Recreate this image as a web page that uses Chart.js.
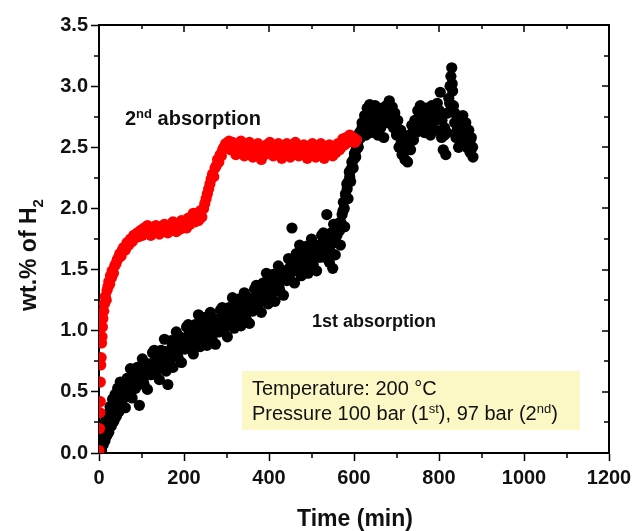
<!DOCTYPE html>
<html>
<head>
<meta charset="utf-8">
<script src="https://cdn.jsdelivr.net/npm/chart.js@4.4.0/dist/chart.umd.min.js"></script>
<style>
  html, body { margin: 0; padding: 0; background: #fff; }
</style>
</head>
<body>
<canvas id="chart" width="636" height="531"></canvas>
<script>
// tick values
const xTicks = [0, 200, 400, 600, 800, 1000, 1200];
const yTicks = [0, 0.5, 1.0, 1.5, 2.0, 2.5, 3.0, 3.5];

// 1st absorption (black), outer scatter of the band
const time1 = [
  0, 2, 4, 6, 8, 10, 12, 14, 16, 18,
  20, 23, 26, 29, 32, 35, 38, 41, 44, 47,
  50, 54, 58, 62, 66, 70, 74, 78, 82, 86,
  90, 95, 98, 102, 106, 110, 114, 118, 122, 126,
  130, 134, 138, 142, 146, 150, 154, 158, 162, 166,
  170, 174, 178, 182, 186, 190, 194, 198, 202, 206,
  210, 214, 218, 222, 226, 230, 234, 238, 242, 246,
  250, 254, 258, 262, 266, 270, 274, 278, 282, 286,
  290, 294, 298, 302, 306, 310, 314, 318, 322, 326,
  330, 334, 338, 342, 346, 350, 354, 358, 362, 366,
  370, 374, 378, 382, 386, 390, 394, 398, 402, 406,
  410, 414, 418, 422, 426, 430, 434, 438, 442, 446,
  450, 454, 456, 460, 464, 468, 472, 476, 480, 484,
  488, 492, 496, 500, 504, 508, 512, 516, 520, 524,
  528, 532, 536, 538, 542, 546, 550, 552, 556, 560,
  564, 568, 572, 575, 578, 580, 583, 586, 589, 592,
  595, 598, 601, 604, 607, 610, 613, 616, 619, 622,
  625, 628, 631, 634, 637, 640, 643, 646, 650, 653,
  656, 660, 663, 666, 670, 673, 676, 680, 683, 686,
  690, 693, 696, 700, 703, 706, 710, 713, 716, 720,
  723, 726, 730, 733, 736, 740, 743, 746, 750, 753,
  756, 760, 763, 766, 770, 773, 776, 780, 783, 786,
  790, 793, 796, 800, 803, 806, 810, 813, 816, 820,
  823, 826, 828, 830, 832, 834, 837, 840, 843, 846,
  850, 853, 856, 860, 863, 866, 870, 873, 876, 880
];
const wt1 = [
  0.00, 0.06, 0.12, 0.02, 0.18, 0.07, 0.24, 0.10, 0.28, 0.14,
  0.32, 0.17, 0.38, 0.22, 0.44, 0.26, 0.48, 0.30, 0.53, 0.34,
  0.58, 0.40, 0.53, 0.37, 0.61, 0.51, 0.69, 0.45, 0.63, 0.53,
  0.70, 0.39, 0.64, 0.77, 0.56, 0.73, 0.52, 0.71, 0.64, 0.82,
  0.84, 0.65, 0.77, 0.60, 0.84, 0.75, 0.93, 0.67, 0.56, 0.75,
  0.92, 0.70, 0.86, 0.99, 0.78, 0.95, 0.74, 0.93, 0.85, 1.03,
  1.05, 0.86, 0.99, 0.81, 1.05, 0.95, 1.13, 0.87, 1.05, 0.95,
  1.11, 0.88, 1.04, 1.15, 0.94, 1.10, 0.89, 1.08, 0.99, 1.17,
  1.19, 1.00, 1.13, 0.95, 1.19, 1.09, 1.27, 1.02, 1.20, 1.10,
  1.26, 1.04, 1.20, 1.31, 1.10, 1.27, 1.06, 1.25, 1.16, 1.34,
  1.37, 1.18, 1.31, 1.15, 1.39, 1.29, 1.47, 1.22, 1.40, 1.30,
  1.46, 1.24, 1.40, 1.53, 1.32, 1.49, 1.29, 1.48, 1.41, 1.59,
  1.42, 1.84, 1.56, 1.39, 1.63, 1.52, 1.70, 1.45, 1.64, 1.53,
  1.69, 1.47, 1.63, 1.75, 1.54, 1.70, 1.49, 1.68, 1.60, 1.78,
  1.80, 1.60, 1.95, 1.74, 1.56, 1.80, 1.51, 1.87, 1.62, 1.78,
  1.88, 1.70, 1.95, 2.05, 1.85, 2.12, 2.20, 2.08, 2.30, 2.22,
  2.38, 2.33, 2.45, 2.42, 2.55, 2.50, 2.62, 2.58, 2.70, 2.64,
  2.76, 2.60, 2.82, 2.70, 2.85, 2.62, 2.78, 2.68, 2.84, 2.72,
  2.60, 2.78, 2.66, 2.82, 2.58, 2.74, 2.84, 2.70, 2.88, 2.76,
  2.83, 2.66, 2.78, 2.60, 2.72, 2.50, 2.64, 2.44, 2.56, 2.40,
  2.52, 2.38, 2.60, 2.48, 2.68, 2.56, 2.72, 2.62, 2.80, 2.66,
  2.84, 2.70, 2.78, 2.62, 2.82, 2.68, 2.76, 2.60, 2.84, 2.70,
  2.80, 2.64, 2.86, 2.74, 2.95, 2.58, 2.48, 2.66, 2.44, 2.78,
  2.90, 3.00, 3.08, 3.15, 2.96, 2.84, 2.70, 2.58, 2.74, 2.50,
  2.68, 2.56, 2.76, 2.62, 2.70, 2.50, 2.64, 2.46, 2.58, 2.42
];

// 1st absorption (black), denser readings in the middle of the band
const time1Core = [
  3, 7, 11, 15, 19, 22, 25, 28, 31, 34,
  37, 40, 43, 46, 49,
  52, 56, 60, 64, 68, 72, 76, 80, 84, 88,
  92, 96, 100, 104, 108, 112, 116, 120, 124, 128,
  132, 136, 140, 144, 148, 152, 156, 160, 164, 168,
  172, 176, 180, 184, 188, 192, 196, 200, 204, 208,
  212, 216, 220, 224, 228, 232, 236, 240, 244, 248,
  252, 256, 260, 264, 268, 272, 276, 280, 284, 288,
  292, 296, 300, 304, 308, 312, 316, 320, 324, 328,
  332, 336, 340, 344, 348, 352, 356, 360, 364, 368,
  372, 376, 380, 384, 388, 392, 396, 400, 404, 408,
  412, 416, 420, 424, 428, 432, 436, 440, 444, 448,
  452, 456, 460, 464, 468, 472, 476, 480, 484, 488,
  492, 496, 500, 504, 508, 512, 516, 520, 524, 528,
  532, 536, 540, 544, 548, 552, 556,
  566, 570, 574, 577, 581, 584, 587, 590, 593, 596,
  599, 602, 605, 608, 611, 614, 617, 620,
  627, 633, 639, 645, 651, 657, 663, 669, 675, 681,
  687, 693, 699, 705, 711, 717, 723, 729, 735, 741,
  747, 753, 759, 765, 771, 777, 783, 789, 795, 801,
  807, 813, 819, 825, 831, 837, 843, 849, 855, 861,
  867, 873, 879
];
const wt1Core = [
  0.05, 0.09, 0.14, 0.18, 0.21, 0.24, 0.27, 0.30, 0.33, 0.35,
  0.38, 0.40, 0.42, 0.44, 0.46,
  0.51, 0.45, 0.51, 0.46, 0.55, 0.54, 0.60, 0.54, 0.53, 0.61,
  0.64, 0.58, 0.64, 0.59, 0.68, 0.66, 0.73, 0.67, 0.66, 0.73,
  0.76, 0.70, 0.75, 0.70, 0.79, 0.77, 0.83, 0.77, 0.76, 0.83,
  0.87, 0.81, 0.86, 0.81, 0.90, 0.88, 0.94, 0.88, 0.87, 0.94,
  0.97, 0.91, 0.96, 0.91, 1.00, 0.97, 1.03, 0.97, 0.96, 1.02,
  1.05, 0.99, 1.03, 0.98, 1.06, 1.04, 1.09, 1.03, 1.02, 1.08,
  1.11, 1.05, 1.10, 1.05, 1.13, 1.11, 1.17, 1.11, 1.10, 1.17,
  1.20, 1.14, 1.19, 1.13, 1.22, 1.20, 1.26, 1.20, 1.19, 1.26,
  1.29, 1.24, 1.29, 1.24, 1.33, 1.31, 1.37, 1.31, 1.30, 1.37,
  1.41, 1.35, 1.40, 1.35, 1.44, 1.43, 1.49, 1.44, 1.43, 1.51,
  1.54, 1.49, 1.54, 1.49, 1.57, 1.55, 1.61, 1.56, 1.54, 1.61,
  1.64, 1.58, 1.63, 1.58, 1.66, 1.64, 1.70, 1.64, 1.63, 1.70,
  1.72, 1.66, 1.71, 1.65, 1.74, 1.72, 1.78,
  1.82, 1.88, 1.98, 2.00, 2.10, 2.16, 2.22, 2.26, 2.32, 2.34,
  2.40, 2.44, 2.48, 2.52, 2.56, 2.60, 2.64, 2.68,
  2.70, 2.72, 2.74, 2.72, 2.76, 2.70, 2.72, 2.70, 2.76, 2.78,
  2.80, 2.74, 2.68, 2.60, 2.54, 2.50, 2.48, 2.52, 2.60, 2.65,
  2.70, 2.74, 2.76, 2.72, 2.74, 2.70, 2.72, 2.74, 2.76, 2.80,
  2.72, 2.60, 2.62, 2.86, 3.02, 2.78, 2.64, 2.60, 2.64, 2.68,
  2.60, 2.55, 2.50
];

// 2nd absorption (red)
const time2 = [
  0, 1, 2, 3, 3, 4, 5, 6, 7, 8,
  9, 11, 13, 15, 17, 19, 21, 23, 25, 27,
  29, 31, 34, 37, 40, 43, 46, 49, 52, 55,
  58, 62, 66, 70, 74, 78, 82, 86, 90, 94,
  98, 102, 106, 110, 114, 118, 122, 126, 130, 134,
  138, 142, 146, 150, 154, 158, 162, 166, 170, 174,
  178, 182, 186, 190, 194, 198, 202, 206, 210, 214,
  218, 222, 226, 230, 234, 238, 242, 246, 249, 252,
  255, 258, 261, 264, 267, 270, 273, 276, 279, 282,
  285, 288, 291, 294, 298, 302, 306, 310, 314, 318,
  322, 326, 330, 334, 338, 342, 346, 350, 354, 358,
  362, 366, 370, 374, 378, 382, 386, 390, 394, 398,
  402, 406, 410, 414, 418, 422, 426, 430, 434, 438,
  442, 446, 450, 454, 458, 462, 466, 470, 474, 478,
  482, 486, 490, 494, 498, 502, 506, 510, 514, 518,
  522, 526, 530, 534, 538, 542, 546, 550, 554, 558,
  562, 566, 570, 574, 578, 582, 586, 590, 594, 598,
  602, 606
];
const wt2 = [
  0.02, 0.20, 0.33, 0.42, 0.58, 0.72, 0.78, 0.90, 0.95, 1.03,
  1.10, 1.16, 1.22, 1.28, 1.25, 1.33, 1.36, 1.40, 1.38, 1.45,
  1.43, 1.49, 1.47, 1.53, 1.55, 1.58, 1.60, 1.63, 1.61, 1.66,
  1.68, 1.66, 1.72, 1.70, 1.75, 1.73, 1.78, 1.76, 1.80, 1.77,
  1.82, 1.78, 1.84, 1.80, 1.86, 1.81, 1.78, 1.84, 1.80, 1.86,
  1.82, 1.79, 1.85, 1.81, 1.87, 1.83, 1.80, 1.86, 1.82, 1.89,
  1.84, 1.81, 1.87, 1.83, 1.90, 1.85, 1.88, 1.84, 1.92, 1.87,
  1.90, 1.96, 1.89, 1.94, 1.90, 1.98, 1.93, 2.00, 2.04, 2.08,
  2.12, 2.16, 2.20, 2.24, 2.28, 2.26, 2.33, 2.35, 2.40, 2.38,
  2.44, 2.43, 2.48, 2.50, 2.53, 2.50, 2.55, 2.48, 2.54, 2.50,
  2.44, 2.52, 2.47, 2.55, 2.49, 2.43, 2.51, 2.46, 2.54, 2.48,
  2.42, 2.50, 2.45, 2.53, 2.47, 2.40, 2.49, 2.44, 2.52, 2.46,
  2.54, 2.49, 2.43, 2.51, 2.46, 2.53, 2.47, 2.41, 2.50, 2.45,
  2.53, 2.48, 2.42, 2.51, 2.46, 2.54, 2.48, 2.43, 2.51, 2.46,
  2.52, 2.47, 2.41, 2.50, 2.45, 2.53, 2.48, 2.42, 2.50, 2.46,
  2.53, 2.47, 2.41, 2.49, 2.45, 2.52, 2.47, 2.43, 2.51, 2.46,
  2.53, 2.48, 2.50, 2.57, 2.52, 2.58, 2.54, 2.60, 2.55, 2.58,
  2.54, 2.56
];

const FONT = '"Liberation Sans", Arial, Helvetica, sans-serif';

// draw a run of text pieces, each piece [text, size, weight, raise]
function drawRich(ctx, parts, x, y) {
  let cx = x;
  parts.forEach(([txt, size, weight, raise]) => {
    ctx.font = `${weight} ${size}px ${FONT}`;
    ctx.fillText(txt, cx, y - raise);
    cx += ctx.measureText(txt).width;
  });
  return cx - x;
}
function richWidth(ctx, parts) {
  let w = 0;
  parts.forEach(([txt, size, weight]) => {
    ctx.font = `${weight} ${size}px ${FONT}`;
    w += ctx.measureText(txt).width;
  });
  return w;
}

const decorations = {
  id: 'decorations',
  beforeDatasetsDraw(chart) {
    const ctx = chart.ctx;
    // info box
    ctx.save();
    ctx.fillStyle = '#fbf8c6';
    ctx.fillRect(242, 371, 338, 59);
    ctx.fillStyle = '#111';
    ctx.textBaseline = 'alphabetic';
    drawRich(ctx, [['Temperature: 200 \u00b0C', 20, 'normal', 0]], 252, 395);
    drawRich(ctx, [
      ['Pressure 100 bar (1', 20, 'normal', 0],
      ['st', 13, 'normal', 7],
      ['), 97 bar (2', 20, 'normal', 0],
      ['nd', 13, 'normal', 7],
      [')', 20, 'normal', 0]
    ], 252, 420);
    ctx.restore();
  },
  afterDraw(chart) {
    const ctx = chart.ctx;
    const xs = chart.scales.x, ys = chart.scales.y;
    const a = chart.chartArea;
    ctx.save();
    ctx.strokeStyle = '#000';
    ctx.lineWidth = 2;
    // top and right frame
    ctx.beginPath();
    ctx.moveTo(a.left - 1, a.top);
    ctx.lineTo(a.right, a.top);
    ctx.lineTo(a.right, a.bottom + 1);
    ctx.stroke();

    ctx.lineWidth = 1.5;
    ctx.beginPath();
    for (let v = 0; v <= 1200; v += 100) {
      const px = Math.round(xs.getPixelForValue(v));
      const major = v % 200 === 0;
      // top, pointing in
      ctx.moveTo(px, a.top);
      ctx.lineTo(px, a.top + (major ? 7 : 4));
      if (!major) {
        ctx.moveTo(px, a.bottom);
        ctx.lineTo(px, a.bottom + 5);
      }
    }
    for (let v = 0; v <= 3.5001; v += 0.25) {
      const py = Math.round(ys.getPixelForValue(v));
      const major = Math.abs(v * 2 - Math.round(v * 2)) < 1e-6;
      ctx.moveTo(a.right, py);
      ctx.lineTo(a.right - (major ? 7 : 5), py);
      if (!major) {
        ctx.moveTo(a.left, py);
        ctx.lineTo(a.left - 5, py);
      }
    }
    ctx.stroke();

    ctx.fillStyle = '#111';
    ctx.textBaseline = 'alphabetic';
    // annotations
    drawRich(ctx, [
      ['2', 20, 'bold', 0],
      ['nd', 13, 'bold', 7],
      [' absorption', 20, 'bold', 0]
    ], 125, 125);
    drawRich(ctx, [['1st absorption', 18, 'bold', 0]], 312, 327);

    // x title
    ctx.font = `bold 23px ${FONT}`;
    ctx.textAlign = 'center';
    ctx.fillText('Time (min)', 355, 526);
    ctx.textAlign = 'left';

    // y title, rotated
    const yParts = [['wt.% of H', 23, 'bold', 0], ['2', 15, 'bold', -7]];
    const w = richWidth(ctx, yParts);
    ctx.translate(36, 255);
    ctx.rotate(-Math.PI / 2);
    drawRich(ctx, yParts, -w / 2, 0);
    ctx.restore();
  }
};

const tickFont = { family: FONT, size: 20, weight: 'bold' };
const axisGrid = {
  display: true,
  drawOnChartArea: false,
  drawTicks: true,
  tickLength: 8,
  tickWidth: 1.5,
  tickColor: '#000',
  color: '#000'
};

const dotRadius = 5.6;
const toPoints = (ts, vs) => ts.map((t, i) => ({ x: t, y: vs[i] }));

new Chart(document.getElementById('chart'), {
  type: 'scatter',
  data: {
    datasets: [
      {
        label: '2nd absorption',
        data: toPoints(time2, wt2),
        pointRadius: dotRadius,
        pointHoverRadius: dotRadius,
        pointBorderWidth: 0,
        pointBackgroundColor: '#ff0000'
      },
      {
        label: '1st absorption',
        data: toPoints(time1, wt1).concat(toPoints(time1Core, wt1Core)),
        pointRadius: dotRadius,
        pointHoverRadius: dotRadius,
        pointBorderWidth: 0,
        pointBackgroundColor: '#000000'
      }
    ]
  },
  options: {
    responsive: false,
    animation: false,
    devicePixelRatio: 1,
    layout: { padding: { left: 0, top: 25, right: 27, bottom: 0 } },
    plugins: { legend: { display: false }, tooltip: { enabled: false } },
    scales: {
      x: {
        type: 'linear',
        min: 0,
        max: 1200,
        afterBuildTicks: (s) => { s.ticks = xTicks.map(v => ({ value: v })); },
        afterFit: (s) => { s.height = 78; s.paddingLeft = 0; s.paddingRight = 0; },
        ticks: {
          font: tickFont,
          color: '#111',
          padding: 5,
          maxRotation: 0,
          autoSkip: false,
          callback: (v) => String(v)
        },
        grid: axisGrid,
        border: { display: true, color: '#000', width: 2 }
      },
      y: {
        type: 'linear',
        min: 0,
        max: 3.5,
        afterBuildTicks: (s) => { s.ticks = yTicks.map(v => ({ value: v })); },
        afterFit: (s) => { s.width = 99; s.paddingTop = 0; s.paddingBottom = 0; },
        ticks: {
          font: tickFont,
          color: '#111',
          padding: 3,
          autoSkip: false,
          callback: (v) => Number(v).toFixed(1)
        },
        grid: axisGrid,
        border: { display: true, color: '#000', width: 2 }
      }
    }
  },
  plugins: [decorations]
});
</script>
</body>
</html>
